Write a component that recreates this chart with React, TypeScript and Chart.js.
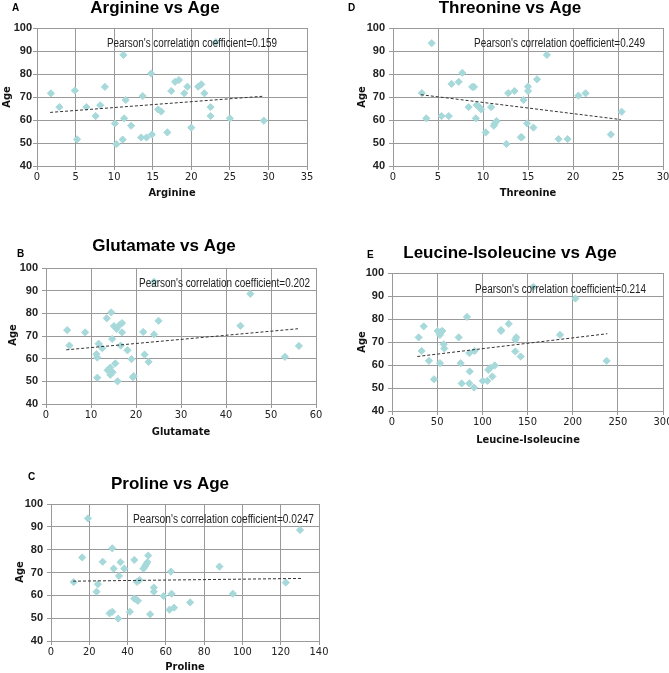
import React, { useEffect, useRef } from "react";
import { Chart, registerables } from "chart.js";
Chart.register(...registerables);

// ---------- Data ----------
const arginine = [1.8, 2.9, 4.9, 5.2, 6.4, 7.6, 8.2, 8.8, 10.1, 10.3, 11.2, 11.1, 11.3, 11.5, 12.2, 13.7, 13.5, 14.2, 14.8, 14.9, 15.7, 16.1, 16.9, 17.4, 17.9, 18.4, 19.1, 19.5, 20.0, 20.9, 21.3, 21.7, 22.5, 22.5, 23.2, 25.0, 29.4];
const arginineAge = [71.6, 65.6, 72.8, 51.6, 65.6, 61.7, 66.4, 74.4, 58.5, 49.5, 88.3, 51.5, 60.7, 68.7, 57.5, 70.4, 52.4, 52.4, 80.2, 53.7, 64.6, 63.7, 54.6, 72.6, 76.6, 77.4, 71.6, 74.5, 56.7, 74.5, 75.5, 71.6, 65.6, 61.7, 93.9, 60.7, 59.7];
const arginineTrendX = [1.7, 29.2];
const arginineTrendAge = [63.3, 70.3];

const threonine = [3.2, 3.7, 4.3, 5.4, 6.2, 6.5, 7.3, 7.7, 8.4, 8.8, 9.0, 9.2, 9.3, 9.6, 9.8, 10.3, 10.9, 11.2, 11.3, 11.5, 12.6, 12.8, 13.5, 14.2, 14.3, 14.5, 14.9, 15.0, 15.0, 15.6, 16.0, 17.1, 18.4, 19.4, 20.6, 21.4, 24.2, 25.4];
const threonineAge = [71.7, 60.7, 93.4, 61.7, 61.7, 75.7, 76.6, 80.5, 65.6, 74.4, 74.4, 60.7, 66.5, 65.6, 64.6, 54.6, 65.6, 57.5, 58.5, 59.5, 49.6, 71.7, 72.6, 52.5, 52.5, 68.7, 58.5, 72.6, 74.5, 56.7, 77.7, 88.3, 51.7, 51.7, 70.6, 71.6, 53.7, 63.6];
const threonineTrendX = [3.1, 25.3];
const threonineTrendAge = [71.0, 60.2];

const glutamate = [4.7, 5.2, 8.7, 11.2, 11.4, 11.4, 11.7, 12.5, 13.5, 14.5, 14.7, 13.7, 14.3, 14.3, 14.8, 15.4, 15.1, 15.7, 15.9, 16.6, 16.3, 16.9, 16.9, 18.1, 19.0, 19.3, 19.5, 21.6, 21.9, 22.8, 24.0, 24.0, 25.0, 43.2, 45.4, 53.1, 56.2];
const glutamateAge = [72.6, 65.8, 71.6, 62.0, 60.5, 51.6, 66.6, 64.6, 77.8, 80.4, 68.7, 54.9, 52.9, 56.1, 54.0, 57.9, 74.4, 73.1, 50.0, 65.8, 74.8, 75.7, 71.6, 63.7, 59.8, 51.8, 52.3, 71.8, 61.8, 58.6, 70.7, 93.9, 76.7, 74.5, 88.6, 60.8, 65.6];
const glutamateTrendX = [4.5, 56.0];
const glutamateTrendAge = [63.9, 73.2];

const leucine = [29.5, 32.8, 35.1, 40.9, 46.5, 50.6, 53.1, 53.1, 54.6, 55.7, 57.2, 57.9, 73.8, 76.0, 77.1, 83.0, 85.6, 86.0, 85.6, 91.5, 90.8, 100.4, 105.5, 106.6, 108.9, 111.1, 113.7, 120.7, 120.7, 129.2, 136.5, 137.6, 136.5, 142.4, 156.5, 186.0, 203.0, 237.6];
const leucineAge = [72.0, 66.1, 76.8, 61.8, 53.8, 74.8, 60.8, 73.1, 74.5, 74.8, 69.0, 67.2, 72.0, 60.8, 52.0, 80.9, 52.0, 57.2, 65.2, 66.1, 50.2, 53.1, 53.1, 57.9, 58.8, 55.0, 59.8, 75.2, 74.8, 77.9, 71.0, 72.0, 65.9, 63.7, 94.0, 73.1, 88.9, 61.8];
const leucineTrendX = [28.0, 238.4];
const leucineTrendAge = [63.7, 73.6];

const proline = [11.8, 16.3, 19.3, 23.8, 24.5, 27.0, 30.6, 32.0, 32.0, 32.7, 35.1, 35.5, 36.3, 38.3, 41.2, 43.5, 43.5, 44.5, 45.4, 44.9, 46.3, 48.3, 49.0, 49.7, 50.4, 50.8, 51.8, 53.7, 53.7, 58.8, 61.9, 62.6, 63.0, 64.3, 72.7, 88.0, 95.0, 122.6, 130.1];
const prolineAge = [65.8, 76.6, 93.7, 61.6, 64.9, 74.7, 52.1, 52.8, 80.6, 71.7, 49.8, 68.5, 74.5, 71.7, 52.8, 75.5, 58.6, 58.2, 57.6, 65.9, 66.7, 71.7, 72.6, 73.6, 74.5, 77.4, 51.7, 63.4, 61.6, 59.7, 53.7, 70.4, 60.7, 54.6, 56.9, 72.6, 60.7, 65.6, 88.6];
const prolineTrendX = [11.5, 130.6];
const prolineTrendAge = [66.2, 67.4];

// ---------- Styles ----------
const SANS = "'Liberation Sans', Arial, sans-serif";
const NARROW = "'Liberation Sans Narrow', 'DejaVu Sans Condensed', 'Liberation Sans', sans-serif";
const MARK = "#a7d9da";
const GRID = "#9a9a9a";

type Box = { l: number; t: number; w: number; h: number };
type Plot = { l: number; t: number; r: number; b: number };
type Panel = {
  key: string;
  letter: string;
  title: string;
  xLabel: string;
  pearson: string;
  xs: number[];
  ys: number[];
  tx: number[];
  ty: number[];
  xMax: number;
  xStep: number;
  canvas: Box;
  plot: Plot;
  titlePos: [number, number];
  letterPos: [number, number];
  pearsonPos: [number, number, number];
  yTitlePos: [number, number];
  xTitlePos: [number, number];
  yPad: number;
};

const PANELS: Panel[] = [
  {
    key: "A", letter: "A", title: "Arginine vs Age", xLabel: "Arginine",
    pearson: "Pearson's correlation coefficient=0.159",
    xs: arginine, ys: arginineAge, tx: arginineTrendX, ty: arginineTrendAge,
    xMax: 35, xStep: 5,
    canvas: { l: 0, t: 0, w: 335, h: 215 },
    plot: { l: 37, t: 28, r: 307, b: 166 },
    titlePos: [155, 13], letterPos: [12, 11], pearsonPos: [107, 44, 170],
    yTitlePos: [7, 97], xTitlePos: [172, 193], yPad: 1,
  },
  {
    key: "D", letter: "D", title: "Threonine vs Age", xLabel: "Threonine",
    pearson: "Pearson's correlation coefficient=0.249",
    xs: threonine, ys: threonineAge, tx: threonineTrendX, ty: threonineTrendAge,
    xMax: 30, xStep: 5,
    canvas: { l: 335, t: 0, w: 334, h: 215 },
    plot: { l: 393, t: 28, r: 663, b: 166 },
    titlePos: [510, 13], letterPos: [348, 11], pearsonPos: [474, 44, 171],
    yTitlePos: [362, 97], xTitlePos: [528, 193], yPad: 4,
  },
  {
    key: "B", letter: "B", title: "Glutamate vs Age", xLabel: "Glutamate",
    pearson: "Pearson's correlation coefficient=0.202",
    xs: glutamate, ys: glutamateAge, tx: glutamateTrendX, ty: glutamateTrendAge,
    xMax: 60, xStep: 10,
    canvas: { l: 0, t: 225, w: 335, h: 220 },
    plot: { l: 46, t: 268, r: 316, b: 404 },
    titlePos: [164, 251], letterPos: [17, 257], pearsonPos: [139, 284, 171],
    yTitlePos: [13, 335], xTitlePos: [181, 432], yPad: 4,
  },
  {
    key: "E", letter: "E", title: "Leucine-Isoleucine vs Age", xLabel: "Leucine-Isoleucine",
    pearson: "Pearson's correlation coefficient=0.214",
    xs: leucine, ys: leucineAge, tx: leucineTrendX, ty: leucineTrendAge,
    xMax: 300, xStep: 50,
    canvas: { l: 335, t: 225, w: 334, h: 220 },
    plot: { l: 392, t: 273, r: 663, b: 411 },
    titlePos: [510, 258], letterPos: [367, 258], pearsonPos: [475, 290, 171],
    yTitlePos: [362, 342], xTitlePos: [528, 440], yPad: 4,
  },
  {
    key: "C", letter: "C", title: "Proline vs Age", xLabel: "Proline",
    pearson: "Pearson's correlation coefficient=0.0247",
    xs: proline, ys: prolineAge, tx: prolineTrendX, ty: prolineTrendAge,
    xMax: 140, xStep: 20,
    canvas: { l: 0, t: 455, w: 335, h: 218 },
    plot: { l: 51, t: 504, r: 319, b: 641 },
    titlePos: [170, 489], letterPos: [28, 480], pearsonPos: [133, 520, 181],
    yTitlePos: [20, 572], xTitlePos: [185, 667], yPad: 4,
  },
];

function decorPlugin(p: Panel) {
  return {
    id: "decor" + p.key,
    afterDraw(chart: any) {
      const ctx = chart.ctx as CanvasRenderingContext2D;
      const ox = p.canvas.l;
      const oy = p.canvas.t;
      ctx.save();
      ctx.fillStyle = "#000";
      ctx.textAlign = "center";
      ctx.textBaseline = "alphabetic";
      ctx.font = `bold 17px ${SANS}`;
      ctx.fillText(p.title, p.titlePos[0] - ox, p.titlePos[1] - oy);
      ctx.textAlign = "left";
      ctx.font = `bold 10px ${SANS}`;
      ctx.fillText(p.letter, p.letterPos[0] - ox, p.letterPos[1] - oy);
      ctx.fillStyle = "#222";
      ctx.font = `12px ${SANS}`;
      ctx.textBaseline = "middle";
      ctx.fillText(p.pearson, p.pearsonPos[0] - ox, p.pearsonPos[1] - oy, p.pearsonPos[2]);
      ctx.fillStyle = "#111";
      ctx.font = `bold 11px ${NARROW}`;
      ctx.textAlign = "center";
      ctx.fillText(p.xLabel, p.xTitlePos[0] - ox, p.xTitlePos[1] - oy);
      ctx.translate(p.yTitlePos[0] - ox, p.yTitlePos[1] - oy);
      ctx.rotate(-Math.PI / 2);
      ctx.fillText("Age", 0, 0);
      ctx.restore();
    },
  };
}

function PanelChart({ p }: { p: Panel }) {
  const ref = useRef<HTMLCanvasElement | null>(null);
  useEffect(() => {
    if (!ref.current) return;
    const { canvas, plot } = p;
    const chart = new Chart(ref.current, {
      type: "scatter",
      data: {
        datasets: [
          {
            data: p.tx.map((x, i) => ({ x, y: p.ty[i] })),
            showLine: true,
            borderColor: "#333",
            borderWidth: 1,
            borderDash: [3, 2],
            pointRadius: 0,
            fill: false,
            order: 0,
          } as any,
          {
            data: p.xs.map((x, i) => ({ x, y: p.ys[i] })),
            pointStyle: "rectRot",
            pointRadius: 3.6,
            backgroundColor: MARK,
            borderColor: MARK,
            borderWidth: 1,
            order: 1,
          } as any,
        ],
      },
      options: {
        animation: false,
        responsive: false,
        events: [],
        layout: {
          padding: {
            left: 0,
            top: plot.t - canvas.t,
            right: canvas.l + canvas.w - plot.r,
            bottom: 0,
          },
        },
        plugins: {
          legend: { display: false },
          tooltip: { enabled: false },
          title: { display: false },
        },
        scales: {
          x: {
            type: "linear",
            min: 0,
            max: p.xMax,
            ticks: {
              stepSize: p.xStep,
              autoSkip: false,
              maxRotation: 0,
              padding: 1,
              color: "#222",
              font: { family: NARROW, size: 11 },
            },
            grid: { color: GRID, lineWidth: 1, tickLength: 4, tickColor: GRID },
            border: { color: GRID, width: 1 },
            afterFit: (s: any) => {
              s.height = canvas.t + canvas.h - plot.b;
              s.paddingLeft = 0;
              s.paddingRight = 0;
            },
          },
          y: {
            type: "linear",
            min: 40,
            max: 100,
            ticks: {
              stepSize: 10,
              autoSkip: false,
              padding: p.yPad,
              color: "#222",
              font: { family: SANS, size: 11, weight: "bold" },
            },
            grid: { color: GRID, lineWidth: 1, tickLength: 4, tickColor: GRID },
            border: { color: GRID, width: 1 },
            afterFit: (s: any) => {
              s.width = plot.l - canvas.l;
              s.paddingTop = 0;
              s.paddingBottom = 0;
            },
          },
        },
      } as any,
      plugins: [decorPlugin(p)],
    });
    return () => chart.destroy();
  }, [p]);
  return (
    <canvas
      ref={ref}
      width={p.canvas.w}
      height={p.canvas.h}
      style={{
        position: "absolute",
        left: p.canvas.l,
        top: p.canvas.t,
        width: p.canvas.w,
        height: p.canvas.h,
      }}
    />
  );
}

export default function App() {
  return (
    <div
      style={{
        position: "absolute",
        left: 0,
        top: 0,
        width: 669,
        height: 673,
        background: "#fff",
        overflow: "hidden",
      }}
    >
      {PANELS.map((p) => (
        <PanelChart key={p.key} p={p} />
      ))}
    </div>
  );
}
